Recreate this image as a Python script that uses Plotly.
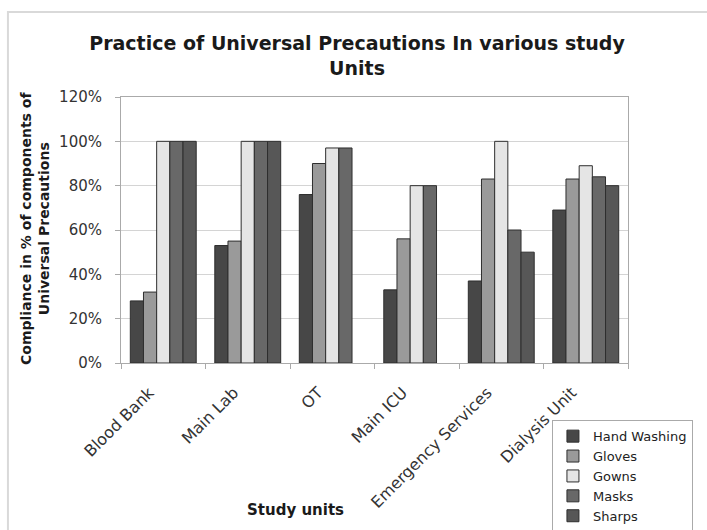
import plotly.graph_objects as go

# Study units and compliance (%) for each component of universal precautions
units = ["Blood Bank", "Main Lab", "OT", "Main ICU", "Emergency Services", "Dialysis Unit"]
hand_washing = [28, 53, 76, 33, 37, 69]
gloves = [32, 55, 90, 56, 83, 83]
gowns = [100, 100, 97, 80, 100, 89]
masks = [100, 100, 97, 80, 60, 84]
sharps = [100, 100, None, None, 50, 80]

series = [
    ("Hand Washing", hand_washing, "#474747"),
    ("Gloves", gloves, "#9a9a9a"),
    ("Gowns", gowns, "#e5e5e5"),
    ("Masks", masks, "#686868"),
    ("Sharps", sharps, "#575757"),
]

FONT = "DejaVu Sans, Arial, sans-serif"
TEXT = "#1a1a1a"

fig = go.Figure()
for name, vals, color in series:
    fig.add_trace(go.Bar(
        x=units, y=[None if v is None else v / 100 for v in vals], name=name,
        marker=dict(color=color, line=dict(color="#2e2e2e", width=1)),
    ))

fig.update_layout(
    width=707, height=530,
    margin=dict(l=121, r=79, t=97, b=167, autoexpand=False),
    paper_bgcolor="white", plot_bgcolor="white",
    barmode="group", bargap=0.22, bargroupgap=0,
    font=dict(family=FONT, size=14, color=TEXT),
    title=dict(
        text="<b>Practice of Universal Precautions In various study<br>Units</b>",
        x=0.505, xanchor="center", y=0.905, yanchor="middle",
        font=dict(size=19, color=TEXT),
    ),
    xaxis=dict(
        tickangle=-45, tickfont=dict(size=16, color="#333"),
        ticklabelstandoff=13, ticklabelshift=-14,
        showline=True, linecolor="#aaaaaa", linewidth=1,
        ticks="outside", tickson="boundaries", ticklen=5, tickcolor="#aaaaaa",
        mirror=True, automargin=False,
    ),
    yaxis=dict(
        range=[0, 1.2], dtick=0.2, tickformat=".0%",
        tickfont=dict(size=15, color="#333"), ticklabelstandoff=10,
        showgrid=True, gridcolor="#d4d4d4", gridwidth=1,
        showline=True, linecolor="#aaaaaa", linewidth=1,
        ticks="outside", ticklen=5, tickcolor="#aaaaaa",
        mirror=True, zeroline=False, automargin=False,
    ),
    legend=dict(
        x=0.85, xanchor="left", y=-0.215, yanchor="top",
        bordercolor="#aaaaaa", borderwidth=1, bgcolor="white",
        font=dict(size=13, color="#222"), tracegroupgap=0,
        itemwidth=30,
    ),
    annotations=[
        dict(text="<b>Compliance in % of components of<br>Universal Precautions</b>",
             xref="paper", yref="paper", x=-0.17, y=0.507,
             xanchor="center", yanchor="middle", textangle=-90,
             showarrow=False, font=dict(size=14, color=TEXT)),
        dict(text="<b>Study units</b>",
             xref="paper", yref="paper", x=0.345, y=-0.553,
             xanchor="center", yanchor="middle",
             showarrow=False, font=dict(size=15, color=TEXT)),
    ],
    shapes=[dict(
        type="rect", xref="paper", yref="paper",
        x0=-0.223, x1=1.2, y0=-0.8, y1=1.32,
        line=dict(color="#d9d9d9", width=2), layer="below",
    )],
)

fig.write_html("out.html")
